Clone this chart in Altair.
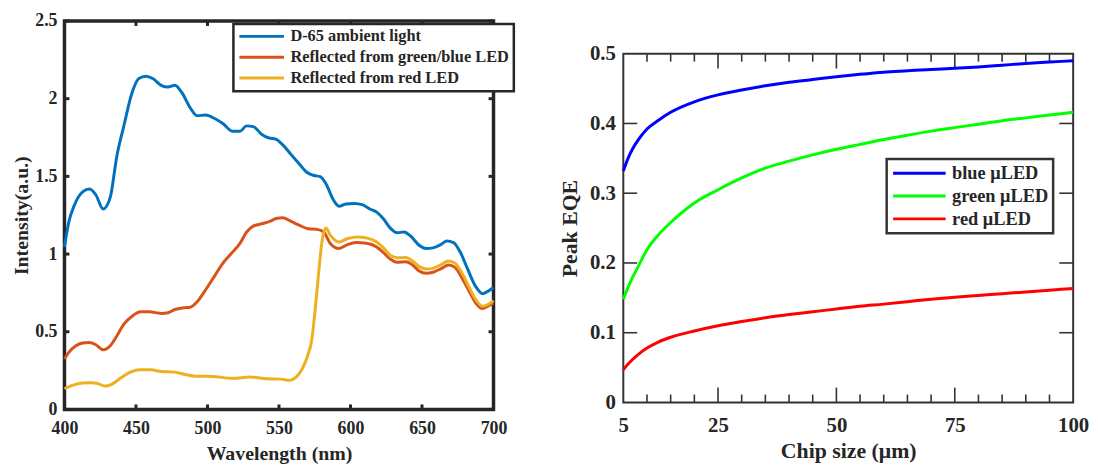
import altair as alt
import pandas as pd

FONT = "Liberation Serif"
INK = "#262626"

# ---------------- left panel: spectra ----------------
left_series = ["D-65 ambient light", "Reflected from green/blue LED", "Reflected from red LED"]
left_colors = ["#0072BD", "#D95319", "#EDB120"]

d65_wl = [400, 403, 406.7, 412.7, 417.5, 422, 427, 432, 436.6, 441.4,
          447.3, 452, 457, 461.7, 467.6, 472.4, 477.2, 482, 488, 492.7,
          498.7, 504.7, 510.7, 517.8, 522.6, 527.4, 532, 538, 543, 547.7,
          552.5, 558.5, 564.5, 569.2, 574, 578.8, 582.4, 588.4, 592, 596.7,
          602.7, 608.7, 613.5, 618.3, 623, 627.8, 632.6, 637.4, 642, 648,
          653, 657.7, 662.5, 667.3, 672, 676.9, 681.7, 687.6, 692.4, 696,
          700]
d65_int = [1.046, 1.205, 1.31, 1.40, 1.418, 1.38, 1.29, 1.365, 1.63, 1.82,
           2.04, 2.13, 2.145, 2.13, 2.086, 2.075, 2.086, 2.04, 1.94, 1.89,
           1.895, 1.874, 1.84, 1.79, 1.79, 1.825, 1.82, 1.77, 1.747, 1.74,
           1.704, 1.64, 1.577, 1.528, 1.507, 1.498, 1.46, 1.343, 1.307, 1.322,
           1.326, 1.316, 1.29, 1.27, 1.227, 1.167, 1.137, 1.142, 1.116, 1.057,
           1.036, 1.04, 1.057, 1.084, 1.074, 1.01, 0.908, 0.79, 0.745, 0.76,
           0.785]

gb_wl = [400, 403, 408, 412.7, 417.5, 422, 427, 432, 436.6, 441.4,
         447.3, 453.3, 459.3, 467.6, 472.4, 477.2, 483.2, 488, 492.7, 498.7,
         504.7, 510.7, 516.6, 522.6, 527.4, 532, 538, 544, 548.7, 552.5,
         558.5, 564.5, 570.4, 576.4, 581.2, 586, 592, 598, 604, 611,
         618.3, 623, 627.8, 632.6, 638.6, 643.4, 648, 653, 657.7, 663.7,
         668.5, 673.2, 678, 682.8, 687.6, 692.4, 696, 700]
gb_int = [0.325, 0.367, 0.41, 0.427, 0.431, 0.416, 0.384, 0.41, 0.473, 0.548,
          0.60, 0.628, 0.628, 0.618, 0.622, 0.643, 0.654, 0.658, 0.692, 0.77,
          0.855, 0.94, 1.004, 1.067, 1.142, 1.18, 1.195, 1.212, 1.231, 1.233,
          1.21, 1.184, 1.163, 1.159, 1.142, 1.067, 1.036, 1.061, 1.074, 1.07,
          1.046, 1.01, 0.968, 0.947, 0.951, 0.93, 0.891, 0.876, 0.883, 0.908,
          0.93, 0.913, 0.845, 0.764, 0.685, 0.649, 0.664, 0.685]

red_wl = [400, 405.5, 412.7, 418.6, 423.4, 428.2, 433, 439, 446, 453.3,
          460.5, 467.6, 477.2, 484.4, 491.6, 503.5, 517.8, 529.8, 541.7, 551.3,
          557.3, 562, 566.8, 570.4, 572.8, 575.2, 577.6, 580, 582.8, 586,
          592, 598, 605, 611, 618.3, 623, 627.8, 632.6, 638.6, 643.4,
          648, 653, 657.7, 663.7, 668.5, 673.2, 678, 682.8, 687.6, 692.4,
          696, 700]
red_int = [0.134, 0.155, 0.17, 0.172, 0.166, 0.15, 0.161, 0.20, 0.24, 0.255,
           0.255, 0.244, 0.24, 0.225, 0.214, 0.212, 0.20, 0.208, 0.197, 0.195,
           0.187, 0.208, 0.27, 0.357, 0.44, 0.632, 0.866, 1.078, 1.167, 1.12,
           1.078, 1.10, 1.11, 1.104, 1.078, 1.04, 0.993, 0.976, 0.978, 0.955,
           0.919, 0.904, 0.908, 0.934, 0.955, 0.94, 0.876, 0.79, 0.707, 0.664,
           0.674, 0.70]

wl_ticks = [400, 450, 500, 550, 600, 650, 700]
int_ticks = [0, 0.5, 1, 1.5, 2, 2.5]

# ---------------- right panel: peak EQE ----------------
right_series = ["blue \u03bcLED", "green \u03bcLED", "red \u03bcLED"]
right_colors = ["#0000FF", "#00FF00", "#FF0000"]

chip = [5, 6, 7, 8, 10, 12.5, 15, 20, 25, 30, 35, 40, 45, 50, 55, 60,
        65, 70, 75, 80, 85, 90, 95, 100]
eqe_blue = [0.332, 0.350, 0.364, 0.375, 0.392, 0.405, 0.416, 0.431, 0.441, 0.448,
            0.454, 0.459, 0.463, 0.467, 0.4705, 0.4735, 0.4755, 0.4775, 0.479, 0.481,
            0.4835, 0.486, 0.488, 0.490]
eqe_green = [0.148, 0.165, 0.180, 0.193, 0.219, 0.241, 0.258, 0.286, 0.305, 0.322,
             0.336, 0.346, 0.355, 0.363, 0.370, 0.377, 0.383, 0.389, 0.394, 0.399,
             0.404, 0.408, 0.412, 0.416]
eqe_red = [0.047, 0.055, 0.062, 0.068, 0.078, 0.087, 0.0935, 0.1025, 0.110, 0.116,
           0.1215, 0.126, 0.130, 0.134, 0.138, 0.141, 0.1445, 0.148, 0.151, 0.1535,
           0.156, 0.1585, 0.161, 0.1635]

chip_labels = [5, 25, 50, 75, 100]
chip_minor = [10, 15, 20, 30, 35, 40, 45, 55, 60, 65, 70, 80, 85, 90, 95]
chip_major = [25, 50, 75]
eqe_labels = [0, 0.1, 0.2, 0.3, 0.4, 0.5]
eqe_ticks = [0.1, 0.2, 0.3, 0.4]

# ---------------- tables ----------------
left_df = pd.concat([
    pd.DataFrame({"x": d65_wl, "y": d65_int, "s": left_series[0]}),
    pd.DataFrame({"x": gb_wl, "y": gb_int, "s": left_series[1]}),
    pd.DataFrame({"x": red_wl, "y": red_int, "s": left_series[2]}),
], ignore_index=True)

right_df = pd.concat([
    pd.DataFrame({"x": chip, "y": eqe_blue, "c": right_series[0]}),
    pd.DataFrame({"x": chip, "y": eqe_green, "c": right_series[1]}),
    pd.DataFrame({"x": chip, "y": eqe_red, "c": right_series[2]}),
], ignore_index=True)

axis_style = dict(labelFont=FONT, titleFont=FONT, labelFontWeight="bold",
                  titleFontWeight="bold", labelColor=INK, titleColor=INK,
                  ticks=False, domain=False, grid=False, labelFlush=False,
                  labelExpr="'' + datum.value")

# ---------------- left chart ----------------
W1, H1 = 433, 392
xs1 = alt.Scale(domain=[400, 700], nice=False, zero=False)
ys1 = alt.Scale(domain=[0, 2.5], nice=False, zero=False)
TL1 = 5

left_lines = alt.Chart(left_df).mark_line(strokeWidth=3, interpolate="monotone").encode(
    x=alt.X("x:Q", scale=xs1, axis=alt.Axis(values=wl_ticks, title="Wavelength (nm)",
            labelFontSize=18, titleFontSize=20, labelPadding=10, titlePadding=6.5, **axis_style)),
    y=alt.Y("y:Q", scale=ys1, axis=alt.Axis(values=int_ticks, title="Intensity(a.u.)",
            labelFontSize=18, titleFontSize=20, labelPadding=7.5, titlePadding=3, **axis_style)),
    color=alt.Color("s:N", scale=alt.Scale(domain=left_series, range=left_colors),
                    legend=alt.Legend(orient="none", legendX=170.5, legendY=3, title=None,
                                      symbolType="stroke", symbolSize=2025, symbolStrokeWidth=3,
                                      clipHeight=16, rowPadding=4, padding=4.5, labelOffset=5,
                                      labelFont=FONT, labelFontSize=16.5, labelFontWeight="bold",
                                      labelColor=INK, labelLimit=400,
                                      strokeColor=INK, fillColor="white")),
)

wl_df = pd.DataFrame({"x": wl_ticks})
int_df = pd.DataFrame({"y": int_ticks})
l_bottom = alt.Chart(wl_df).mark_rule(color=INK, strokeWidth=3).encode(
    x=alt.X("x:Q", scale=xs1), y=alt.value(H1), y2=alt.value(H1 - TL1))
l_top = alt.Chart(wl_df).mark_rule(color=INK, strokeWidth=3).encode(
    x=alt.X("x:Q", scale=xs1), y=alt.value(0), y2=alt.value(TL1))
l_left = alt.Chart(int_df).mark_rule(color=INK, strokeWidth=3).encode(
    y=alt.Y("y:Q", scale=ys1), x=alt.value(0), x2=alt.value(TL1))
l_right = alt.Chart(int_df).mark_rule(color=INK, strokeWidth=3).encode(
    y=alt.Y("y:Q", scale=ys1), x=alt.value(W1), x2=alt.value(W1 - TL1))

left = alt.layer(l_bottom, l_top, l_left, l_right, left_lines).properties(
    width=W1, height=H1, view=alt.ViewBackground(stroke=INK, strokeWidth=3.5))

# ---------------- right chart ----------------
W2, H2 = 454, 352
xs2 = alt.Scale(domain=[5, 100], nice=False, zero=False)
ys2 = alt.Scale(domain=[0, 0.5], nice=False, zero=False)
FR = "#333333"

right_lines = alt.Chart(right_df).mark_line(strokeWidth=3, interpolate="monotone").encode(
    x=alt.X("x:Q", scale=xs2, axis=alt.Axis(values=chip_labels, title="Chip size (\u03bcm)",
            labelFontSize=21, titleFontSize=22, labelPadding=12, titlePadding=6, **axis_style)),
    y=alt.Y("y:Q", scale=ys2, axis=alt.Axis(values=eqe_labels, title="Peak EQE",
            labelFontSize=21, titleFontSize=22, labelPadding=8, titlePadding=7.5, **axis_style)),
    color=alt.Color("c:N", scale=alt.Scale(domain=right_series, range=right_colors),
                    legend=alt.Legend(orient="none", legendX=265.8, legendY=106.2, title=None,
                                      symbolType="stroke", symbolSize=2809, symbolStrokeWidth=3,
                                      clipHeight=19, rowPadding=4, padding=5, labelOffset=5,
                                      labelFont=FONT, labelFontSize=18.5, labelFontWeight="bold",
                                      labelColor=INK, labelLimit=400,
                                      strokeColor=FR, fillColor="white")),
)

minor_df = pd.DataFrame({"x": chip_minor})
major_df = pd.DataFrame({"x": chip_major})
eqe_df = pd.DataFrame({"y": eqe_ticks})
rule2 = dict(color=FR, strokeWidth=1.6)
r_parts = [
    alt.Chart(minor_df).mark_rule(**rule2).encode(x=alt.X("x:Q", scale=xs2), y=alt.value(H2), y2=alt.value(H2 - 8)),
    alt.Chart(minor_df).mark_rule(**rule2).encode(x=alt.X("x:Q", scale=xs2), y=alt.value(0), y2=alt.value(8)),
    alt.Chart(major_df).mark_rule(**rule2).encode(x=alt.X("x:Q", scale=xs2), y=alt.value(H2), y2=alt.value(H2 - 15)),
    alt.Chart(major_df).mark_rule(**rule2).encode(x=alt.X("x:Q", scale=xs2), y=alt.value(0), y2=alt.value(15)),
    alt.Chart(eqe_df).mark_rule(**rule2).encode(y=alt.Y("y:Q", scale=ys2), x=alt.value(0), x2=alt.value(14)),
    alt.Chart(eqe_df).mark_rule(**rule2).encode(y=alt.Y("y:Q", scale=ys2), x=alt.value(W2), x2=alt.value(W2 - 14)),
]

right = alt.layer(*r_parts, right_lines).properties(
    width=W2, height=H2, view=alt.ViewBackground(stroke=FR, strokeWidth=2))

spacer = alt.Chart(pd.DataFrame({"a": [0]})).mark_point(opacity=0).encode(
    x=alt.value(0), y=alt.value(0)
).properties(width=W2, height=20, view=alt.ViewBackground(stroke="transparent"))

right_col = alt.vconcat(spacer, right, spacing=0).resolve_scale(color="independent")

chart = alt.hconcat(left, right_col, spacing=41).resolve_scale(
    color="independent"
).properties(
    padding={"left": 2, "top": 0, "right": 0, "bottom": 0},
    background="white",
).configure(font=FONT).configure_legend(strokeWidth=2.5)

chart.save("out.html", embed_options={"renderer": "svg", "actions": False})
